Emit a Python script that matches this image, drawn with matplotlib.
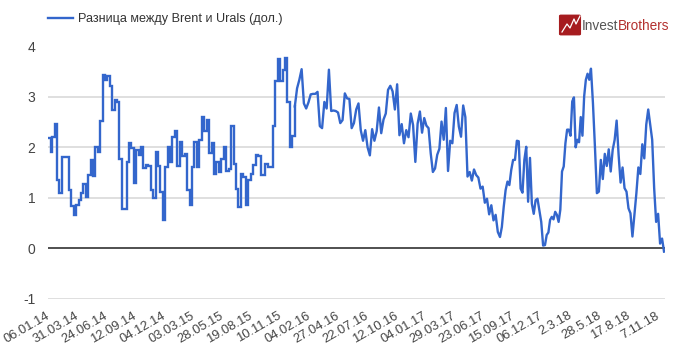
#!/usr/bin/env python3

"""Brent - Urals spread, 2014-2018 (InvestBrothers chart)."""

import numpy as np
import matplotlib.pyplot as plt
from matplotlib.patches import FancyBboxPatch
from matplotlib.lines import Line2D
from matplotlib.transforms import ScaledTranslation

plt.rcParams['font.family'] = ['Liberation Sans', 'DejaVu Sans']
plt.rcParams['axes.unicode_minus'] = False

# x labels, one every 12 weeks
date_labels = ['06.01.14', '31.03.14', '24.06.14', '12.09.14', '04.12.14', '03.03.15',
               '28.05.15', '19.08.15', '10.11.15', '04.02.16', '27.04.16', '22.07.16',
               '12.10.16', '04.01.17', '29.03.17', '23.06.17', '15.09.17', '06.12.17',
               '2.3.18', '28.5.18', '17.8.18', '7.11.18']
y_ticks = [-1, 0, 1, 2, 3, 4]

# spread in dollars; the first pieces are weekly quotes held flat (steps)
spread_start = [2.18, 1.91]
spread_2014 = [2.21, 2.46, 1.35, 1.10, 1.80, 1.80, 1.81, 1.16,
               0.83, 0.65, 0.85, 0.96, 1.10, 1.28, 1.02, 1.45, 1.75, 1.43,
               2.00, 1.91, 2.52, 3.43, 3.33, 3.41, 3.22, 2.74, 2.94, 2.90,
               1.77, 0.78, 0.78, 1.71, 2.08, 1.99, 1.30, 1.95, 1.85, 2.01,
               1.58, 1.65, 1.63, 1.15, 1.00, 1.90, 1.63, 1.12, 0.56, 1.61, 2.00]
spread_2015 = [1.71, 2.21, 2.33, 1.63, 2.11, 1.83, 1.87, 1.16, 0.85, 1.60,
               2.10, 1.61, 2.15, 2.61, 2.33, 2.54, 1.89, 2.08, 1.48, 1.71,
               1.51, 1.77, 2.00, 1.53, 1.56, 2.43, 1.67, 1.18, 0.82, 1.48,
               1.42, 0.86, 1.36, 1.48, 1.65, 1.85, 1.83, 1.46, 1.45, 1.67,
               1.60, 1.61, 2.43, 3.31, 3.75, 3.31, 3.54, 3.77, 2.89, 2.00, 2.23]
spread_2016 = [2.81, 3.17, 3.34, 3.55, 2.87, 2.77, 2.89, 3.05, 3.06, 3.06,
               3.10, 2.42, 2.38, 2.90, 2.77, 3.54, 2.72, 2.73, 2.72, 2.69,
               2.48, 2.54, 3.07, 2.97, 2.96, 2.38, 2.48, 2.75, 2.87, 2.34,
               2.13, 2.34, 2.00, 1.84, 2.36, 2.13, 2.32, 2.79, 2.28, 2.55,
               2.67, 3.14, 3.22, 3.11, 2.75, 3.25, 2.24, 2.46, 2.08, 2.34,
               2.20, 2.67, 2.44, 1.71, 2.47]
spread_2017a = [2.71, 2.29, 2.58, 2.43, 2.38, 1.88, 1.51, 1.58, 1.85, 1.97,
                2.51, 2.15, 2.78, 1.53, 2.13, 2.08, 2.68, 2.84, 2.41, 2.21,
                2.83, 2.60, 1.42, 1.51, 1.34, 1.56, 1.45, 1.40, 1.18, 1.22,
                0.90, 0.98, 0.67, 0.85, 0.55, 0.66, 0.32]
spread_2017b = [0.22, 0.42, 0.82,
                1.15, 1.32, 1.25, 1.55, 1.75, 1.75, 2.13, 2.12, 1.18, 1.10,
                1.75, 2.01, 0.92, 1.79, 0.88, 0.68, 0.95, 0.98, 0.75, 0.52, 0.05]
spread_2018a = [0.06, 0.26, 0.31, 0.56, 0.62, 0.57, 0.72, 0.66, 0.52, 0.76,
                1.52, 1.62, 2.08, 2.35, 2.35, 2.23, 2.91, 2.99, 2.00, 2.15,
                2.10, 2.60, 2.23, 3.01, 3.34, 3.46, 3.34]
spread_2018b = [3.56, 2.88, 2.02,
                1.09, 1.12, 1.75, 1.37, 1.87, 1.63, 1.96, 1.52, 1.95, 2.15,
                2.53, 1.85, 1.30, 1.60, 1.19, 1.12, 0.79, 0.69, 0.23, 0.66,
                1.09, 1.60, 1.47, 2.06, 1.78, 2.45, 2.75, 2.45, 2.15, 1.19,
                0.52, 0.68, 0.09, 0.19, -0.07]

BLUE = '#3366cc'
GRAY = '#444444'


def week_axis(values, first, last, closed=False):
    """Spread one piece of the series evenly over weeks first..last."""
    return np.linspace(first, last, len(values), endpoint=closed)


fig = plt.figure(figsize=(6.79, 3.59), dpi=100)
ax = fig.add_axes([48/679, 1 - 298.5/359, 617/679, 252/359])

# steps part, then plain line part
x_step = np.concatenate([week_axis(spread_start, 0, 1.1), week_axis(spread_2014, 1.1, 49.8),
                         week_axis(spread_2015, 49.8, 101.4)])
y_step = np.array(spread_start + spread_2014 + spread_2015)
x_line = np.concatenate([week_axis(spread_2016, 101.4, 153.1), week_axis(spread_2017a, 153.1, 186.2),
                         week_axis(spread_2017b, 186.2, 204.8), week_axis(spread_2018a, 204.8, 223.8),
                         week_axis(spread_2018b, 223.8, 254, closed=True)])
y_line = np.array(spread_2016 + spread_2017a + spread_2017b + spread_2018a + spread_2018b)

ax.plot(np.append(x_step, x_line[0]), np.append(y_step, y_line[0]), color=BLUE, lw=1.7,
        drawstyle='steps-post', solid_joinstyle='miter', zorder=3)
ax.plot(x_line, y_line, color=BLUE, lw=1.7, zorder=3)

ax.set_xlim(-0.6, 254.4)
ax.set_ylim(-1, 4)
ax.set_yticks(y_ticks)
ax.set_xticks(np.arange(len(date_labels))*12)
ax.set_xticklabels(date_labels, rotation=30, ha='right', va='top', rotation_mode='anchor')
ax.tick_params(axis='both', length=0, colors=GRAY)
ax.tick_params(axis='x', labelsize=9.4, pad=8)
ax.tick_params(axis='y', labelsize=10, pad=9)
shift = ScaledTranslation(-4/100, 0, fig.dpi_scale_trans)
for lab in ax.get_xticklabels():
    lab.set_transform(lab.get_transform() + shift)
ax.grid(axis='y', color='#d9d9d9', lw=1.2)
ax.axhline(0, color='#444444', lw=1.3, zorder=2)
for s in ax.spines.values():
    s.set_visible(False)

# legend above the plot
handle = Line2D([], [], color=BLUE, lw=1.7)
fig.legend([handle], ['Разница между Brent и Urals (дол.)'], loc='center left',
           bbox_to_anchor=(48/679, 1 - 19/359), frameon=False, fontsize=9.1,
           handlelength=2.0, handletextpad=0.4, borderpad=0, borderaxespad=0, labelcolor='#333333')

# logo
fig.add_artist(FancyBboxPatch((561/679, 1 - 34/359), 18/679, 18/359, transform=fig.transFigure,
                              boxstyle='round,pad=0.002', fc='#a61c1f', ec='#a61c1f'))
fig.add_artist(Line2D(np.array([562, 567, 570, 574, 576, 580])/679,
                      1 - np.array([32, 24, 28, 19, 24, 16])/359, color='white', lw=0.9))
logo_a = fig.text(582/679, 1 - 25.5/359, 'Invest', color='#555555', fontsize=9.8, va='center', ha='left')
logo_b = fig.text(618/679, 1 - 25.5/359, 'Brothers', color='#b3302f', fontsize=9.8, va='center', ha='left')

fig.savefig('out.png', dpi=100)
